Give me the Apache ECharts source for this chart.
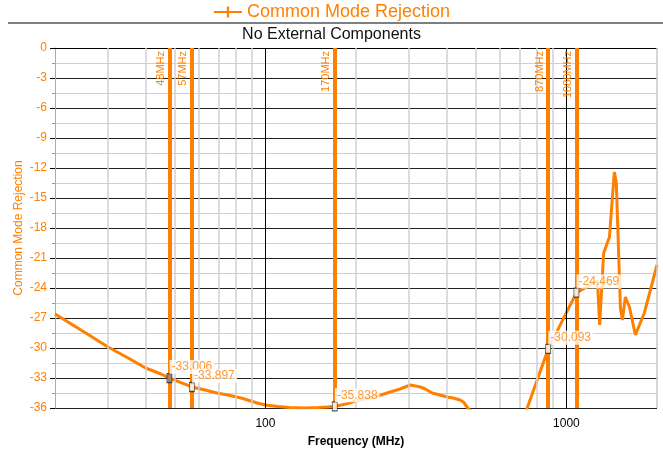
<!DOCTYPE html>
<html><head><meta charset="utf-8">
<script src="https://cdn.jsdelivr.net/npm/echarts@6/dist/echarts.min.js"></script>
<style>html,body{margin:0;padding:0;background:#fff}#c{width:663px;height:449px}</style>
</head><body><div id="c"></div>
<script>
// Frequency (MHz) and common mode rejection (dB)
const freqs = [20,25,30,35,40,45,48,57,63,69,75,83,94,100,110,120,135,150,160,170,185,200,220,236,260,280,303,327,340,358,380,402,420,443,455,469,520,600,700,870,1080,1268,1290,1330,1390,1443,1465,1512,1535,1570,1620,1695,1815,2000];
const cmr   = [-26.6,-28.4,-29.9,-31.0,-32.0,-32.6,-33.006,-33.897,-34.2,-34.5,-34.7,-35.0,-35.5,-35.7,-35.85,-35.95,-36.0,-35.95,-35.9,-35.838,-35.6,-35.3,-35.0,-34.8,-34.4,-34.1,-33.7,-33.9,-34.1,-34.5,-34.7,-34.9,-35.0,-35.2,-35.4,-35.95,-37.4,-38.5,-38.1,-30.093,-24.469,-23.3,-27.7,-20.5,-18.9,-12.4,-13.5,-26.0,-27.2,-24.9,-25.9,-28.7,-26.5,-21.7];
const markerFreqs = [48,57,170,870,1080];
const markerNames = ['48MHz','57MHz','170MHz','870MHz','1080MHz'];
const markerValues = [-33.006,-33.897,-35.838,-30.093,-24.469];
const minorGridFreqs = [30,40,50,60,70,80,90,200,300,400,500,600,700,800,900];
const majorGridFreqs = [100,1000];
const yTicks = [0,-3,-6,-9,-12,-15,-18,-21,-24,-27,-30,-33,-36];

const ORANGE = '#ff8000';
const FONT = '"Liberation Sans", Arial, sans-serif';
const chart = echarts.init(document.getElementById('c'));
const plus = 'path://M4,0 L6,0 L6,4 L10,4 L10,6 L6,6 L6,10 L4,10 L4,6 L0,6 L0,4 L4,4 Z';

chart.setOption({
  animation: false,
  textStyle: {fontFamily: FONT},
  title: {text: 'No External Components', left: 'center', top: 22,
    textStyle: {fontSize: 16, fontWeight: 'normal', color: '#111', fontFamily: FONT}},
  legend: {top: -2, left: 'center', itemWidth: 28, itemHeight: 14,
    textStyle: {fontSize: 18, color: ORANGE, fontFamily: FONT},
    data: ['Common Mode Rejection']},
  graphic: [{type: 'line', shape: {x1: 8, y1: 23, x2: 663, y2: 23}, style: {stroke: '#555', lineWidth: 1.5}}],
  grid: {left: 55, right: 6, top: 48, bottom: 41, outerBoundsMode: 'none', containLabel: false},
  xAxis: {type: 'log', logBase: 10, min: 20, max: 2000,
    name: 'Frequency (MHz)', nameLocation: 'middle', nameGap: 28, nameMoveOverlap: false,
    nameTextStyle: {fontSize: 12, fontWeight: 'bold', color: '#000', fontFamily: FONT},
    axisLine: {lineStyle: {color: '#000', width: 1}},
    axisTick: {show: true, length: 5, lineStyle: {color: '#000'}},
    axisLabel: {showMinLabel: false, showMaxLabel: false, color: '#000', fontSize: 12, margin: 10, fontFamily: FONT,
      formatter: v => String(Math.round(v))},
    splitLine: {show: false}},
  yAxis: {type: 'value', min: -36, max: 0, interval: 3,
    name: 'Common Mode Rejection', nameLocation: 'middle', nameGap: 30, nameMoveOverlap: false,
    nameTextStyle: {fontSize: 12, color: ORANGE, fontFamily: FONT},
    axisLine: {show: true, lineStyle: {color: '#aaa'}},
    axisTick: {show: true, length: 5, lineStyle: {color: '#000'}},
    minorTick: {show: true, splitNumber: 2, length: 3, lineStyle: {color: '#999'}},
    axisLabel: {color: ORANGE, fontSize: 12, margin: 8, fontFamily: FONT,
      formatter: v => yTicks.includes(v) ? String(v) : ''},
    splitLine: {show: true, lineStyle: {color: '#222', width: 1}},
    minorSplitLine: {show: true, lineStyle: {color: '#cfcfcf', width: 1}}},
  series: [
    {type: 'line', name: 'grid', data: [], silent: true, z: 1,
      markLine: {silent: true, symbol: 'none', animation: false, label: {show: false},
        data: minorGridFreqs.map(f => ({xAxis: f, lineStyle: {color: '#d0d0d0', width: 1.5, type: 'solid'}}))
          .concat(majorGridFreqs.map(f => ({xAxis: f, lineStyle: {color: '#000', width: 1, type: 'solid'}})))
          .concat([{xAxis: 2000, lineStyle: {color: '#c8c8c8', width: 1.5, type: 'solid'}}])}},
    {type: 'line', name: 'Common Mode Rejection', z: 3,
      data: freqs.map((f, i) => [f, cmr[i]]),
      showSymbol: false, symbol: plus, symbolSize: 12, clip: true,
      itemStyle: {color: ORANGE},
      lineStyle: {color: ORANGE, width: 3},
      markLine: {symbol: 'none', silent: true, animation: false,
        lineStyle: {color: ORANGE, width: 4, type: 'solid'},
        label: {show: true, position: 'insideEndTop', color: ORANGE, fontSize: 11, fontFamily: FONT, distance: 3},
        data: markerFreqs.map((f, i) => ({xAxis: f, label: {formatter: markerNames[i]}}))}},
    {type: 'scatter', name: 'markers', z: 5,
      data: markerFreqs.map((f, i) => ({value: [f, markerValues[i]],
        itemStyle: {color: i === 0 ? '#888' : '#fff'}})),
      symbol: 'rect', symbolSize: [5, 9],
      itemStyle: {borderColor: '#222', borderWidth: 1},
      label: {show: true, position: [3, -13], formatter: p => p.value[1].toFixed(3),
        color: ORANGE, fontSize: 12, fontFamily: FONT, backgroundColor: '#fff', padding: [1, 2]}}
  ]
});
</script></body></html>
